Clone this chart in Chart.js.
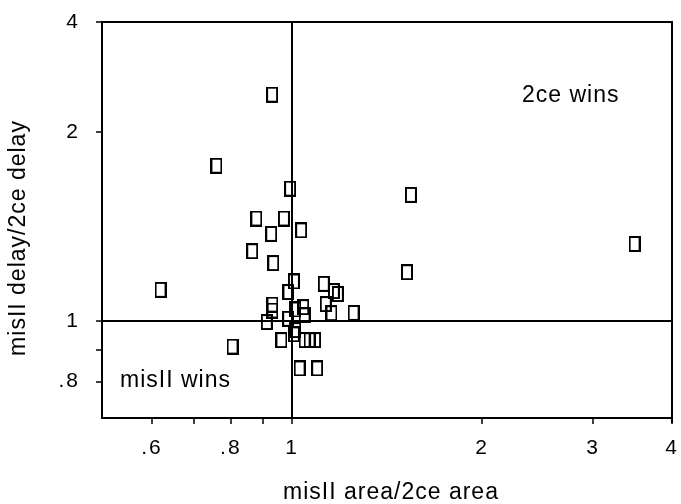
<!DOCTYPE html>
<html>
<head>
<meta charset="utf-8">
<script src="https://cdn.jsdelivr.net/npm/chart.js@4"></script>
<style>
  html, body { margin: 0; padding: 0; background: #fff; }
  #wrap { width: 681px; height: 504px; }
</style>
</head>
<body>
<div id="wrap"><canvas id="c" width="681" height="504"></canvas></div>
<script>
// ---- data ----
const areaRatio  = [0.930, 0.759, 0.993, 1.543, 0.878, 0.971, 0.927, 1.034, 0.865, 0.934,
                    3.490, 1.521, 0.619, 1.007, 0.987, 1.123, 1.165, 1.182, 1.131, 1.155,
                    1.252, 0.931, 0.931, 0.912, 0.986, 1.012, 1.042, 1.047, 1.012, 0.962,
                    1.007, 1.047, 1.066, 1.088, 1.028, 1.096, 0.805];
const delayRatio = [2.297, 1.769, 1.626, 1.589, 1.457, 1.457, 1.377, 1.395, 1.292, 1.237,
                    1.327, 1.196, 1.121, 1.156, 1.112, 1.146, 1.116, 1.104, 1.064, 1.029,
                    1.030, 1.062, 1.039, 0.996, 1.008, 1.043, 1.052, 1.021, 0.967, 0.932,
                    0.952, 0.932, 0.932, 0.932, 0.840, 0.840, 0.910];
const xTickValues = [0.6, 0.7, 0.8, 0.9, 1, 2, 3, 4];
const xTickLabels = ['.6', '', '.8', '', '1', '2', '3', '4'];
const yTickValues = [0.8, 0.9, 1, 2, 3];
const yTickLabels = ['.8', '', '1', '2', '4'];
const xTitle = 'misII area/2ce area';
const yTitle = 'misII delay/2ce delay';
const noteTopRight = '2ce wins';
const noteBottomLeft = 'misII wins';

const points = areaRatio.map((x, i) => ({ x: x, y: delayRatio[i] }));

// hollow rectangle marker
const marker = document.createElement('canvas');
marker.width = 12; marker.height = 16;
(function () {
  const m = marker.getContext('2d');
  m.strokeStyle = '#000';
  m.lineWidth = 2;
  m.strokeRect(1, 1, 10, 14);
})();

const FONT = '"Liberation Sans", Arial, Helvetica, sans-serif';

const decor = {
  id: 'decor',
  beforeDraw(chart) {
    chart.ctx.letterSpacing = '2px';
  },
  afterDraw(chart) {
    const { ctx, chartArea: a } = chart;
    ctx.save();
    ctx.letterSpacing = '1px';
    ctx.fillStyle = '#000';
    ctx.font = '23px ' + FONT;
    ctx.textBaseline = 'alphabetic';
    // outer frame top/right
    ctx.strokeStyle = '#000';
    ctx.lineWidth = 2;
    ctx.beginPath();
    ctx.moveTo(a.left, a.top);
    ctx.lineTo(a.right, a.top);
    ctx.lineTo(a.right, a.bottom + 5);
    ctx.stroke();
    // notes
    ctx.textAlign = 'left';
    ctx.fillText(noteTopRight, a.left + 420, a.top + 80);
    ctx.fillText(noteBottomLeft, a.left + 18, a.top + 365);
    // axis titles
    ctx.textAlign = 'center';
    ctx.fillText(xTitle, (a.left + a.right) / 2 + 4, 499);
    ctx.translate(25, (a.top + a.bottom) / 2 + 18);
    ctx.rotate(-Math.PI / 2);
    ctx.fillText(yTitle, 0, 0);
    ctx.restore();
  }
};

new Chart(document.getElementById('c'), {
  type: 'scatter',
  data: {
    datasets: [{
      data: points,
      pointStyle: marker,
      pointRadius: 6,
      borderColor: '#000',
      backgroundColor: 'rgba(0,0,0,0)'
    }]
  },
  options: {
    responsive: false,
    animation: false,
    devicePixelRatio: 1,
    layout: { padding: { left: 0, right: 9, top: 22, bottom: 0 } },
    plugins: { legend: { display: false }, tooltip: { enabled: false } },
    scales: {
      x: {
        type: 'logarithmic',
        min: 0.5, max: 4,
        afterFit(s) { s.height = 86; s.paddingLeft = 0; s.paddingRight = 0; },
        afterBuildTicks(s) { s.ticks = xTickValues.map(v => ({ value: v })); },
        ticks: {
          autoSkip: false, maxRotation: 0, padding: 12,
          color: '#000',
          font: { family: FONT, size: 21 },
          callback: (v, i) => xTickLabels[i]
        },
        grid: {
          drawOnChartArea: true,
          color: c => (c.tick && c.tick.value === 1) ? '#000' : 'rgba(0,0,0,0)',
          lineWidth: 2,
          tickColor: '#000', tickWidth: 1.5, tickLength: 6
        },
        border: { display: true, color: '#000', width: 2 }
      },
      y: {
        type: 'logarithmic',
        min: 0.7, max: 3,
        afterFit(s) { s.width = 102; s.paddingTop = 0; s.paddingBottom = 0; },
        afterBuildTicks(s) { s.ticks = yTickValues.map(v => ({ value: v })); },
        ticks: {
          autoSkip: false, padding: 16,
          color: '#000',
          font: { family: FONT, size: 21 },
          callback: (v, i) => yTickLabels[i]
        },
        grid: {
          drawOnChartArea: true,
          color: c => (c.tick && c.tick.value === 1) ? '#000' : 'rgba(0,0,0,0)',
          lineWidth: 2,
          tickColor: '#000', tickWidth: 1.5, tickLength: 6
        },
        border: { display: true, color: '#000', width: 2 }
      }
    }
  },
  plugins: [decor]
});
</script>
</body>
</html>
